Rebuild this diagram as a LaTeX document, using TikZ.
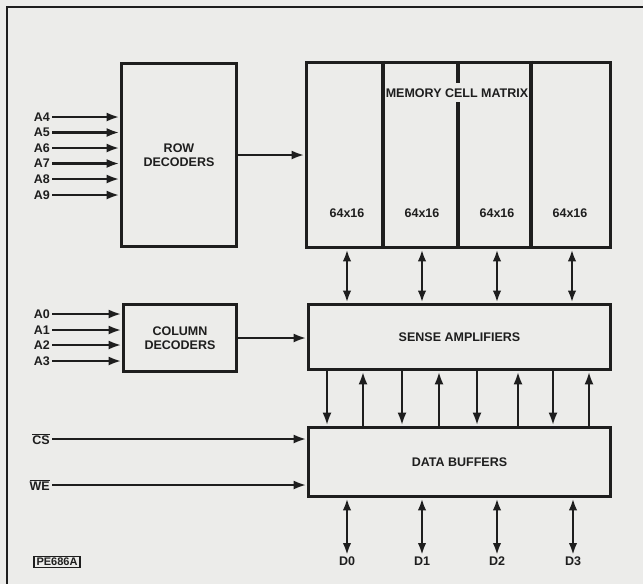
\documentclass[tikz,border=0pt]{standalone}
\usepackage{fontspec}
\setmainfont{Liberation Sans}
\usetikzlibrary{arrows.meta}
\definecolor{paper}{HTML}{ECECEA}
\definecolor{ink}{HTML}{1E1E1E}

\begin{document}
\begin{tikzpicture}[x=1pt,y=-1pt,
    blk/.style={draw=ink,line width=3.8pt,fill=paper,inner sep=0pt,text=ink,font=\bfseries\fontsize{12.5}{14}\selectfont,align=center},
    lab/.style={text=ink,inner sep=2pt,font=\bfseries\fontsize{12.5}{14}\selectfont},
    sig/.style={draw=ink,line width=2.9pt,-{Latex[length=13pt,width=9pt]}},
    bus/.style={draw=ink,line width=2.9pt,{Latex[length=12pt,width=8.5pt]}-{Latex[length=12pt,width=8.5pt]}}]
    \useasboundingbox (0,0) rectangle (643,584);
    \fill[paper] (0,0) rectangle (643,584);
    \draw[ink,line width=2pt] (7,584) -- (7,7) -- (643,7);
    % blocks
    \node[blk,minimum width=115pt,minimum height=183pt] (row) at (179,155) {ROW\\DECODERS};
    \node[blk,minimum width=304pt,minimum height=185pt] (mat) at (458.5,155) {};
    \node[blk,minimum width=113pt,minimum height=67pt] (col) at (180,338) {COLUMN\\DECODERS};
    \node[blk,minimum width=302pt,minimum height=65pt] (sa) at (459.5,337) {SENSE AMPLIFIERS};
    \node[blk,minimum width=302pt,minimum height=69pt] (db) at (459.5,462) {DATA BUFFERS};
    % matrix partitions
    \foreach \x in {383,531}{\coordinate (t) at (\x,0); \draw[ink,line width=3.8pt] (t |- mat.north) -- (t |- mat.south);}
    \draw[ink,line width=3.8pt] (458,62) -- (458,83) (458,102) -- (458,248);
    \node[lab] (title) at (457,93) {MEMORY CELL MATRIX};
    \foreach \x [count=\i] in {347,422,497,570}{\node[lab] (cell\i) at (\x,213) {64x16};}
    % address inputs
    \foreach \n/\y in {4/117,5/132.5,6/148,7/163.5,8/179,9/195}{
      \node[lab,anchor=east] (a\n) at (52,\y) {A\n};
      \draw[sig] (a\n.east) -- (row.west |- a\n);
    }
    \foreach \n/\y in {0/314,1/330,2/345,3/361}{
      \node[lab,anchor=east] (a\n) at (52,\y) {A\n};
      \draw[sig] (a\n.east) -- (col.west |- a\n);
    }
    \node[lab,anchor=east] (cs) at (52,439) {$\overline{\hbox{CS}}$};
    \node[lab,anchor=east] (we) at (52,485) {$\overline{\hbox{WE}}$};
    \draw[sig] (cs.east) -- (db.west |- cs);
    \draw[sig] (we.east) -- (db.west |- we);
    \draw[sig] (row.east) -- (mat.west |- row.east);
    \draw[sig] (col.east) -- (sa.west |- col.east);
    % matrix <-> sense amplifiers
    \foreach \x in {347,422,497,572}{\coordinate (t) at (\x,0); \draw[bus] (t |- mat.south) -- (t |- sa.north);}
    % sense amplifiers <-> data buffers
    \foreach \x in {327,402,477,553}{\coordinate (t) at (\x,0); \draw[sig] (t |- sa.south) -- (t |- db.north);}
    \foreach \x in {363,439,518,589}{\coordinate (t) at (\x,0); \draw[sig] (t |- db.north) -- (t |- sa.south);}
    % data lines
    \foreach \x/\n in {347/0,422/1,497/2,573/3}{
      \node[lab,anchor=north] (d\n) at (\x,555) {D\n};
      \draw[bus] (db.south -| d\n) -- (d\n.north);
    }
    \node[draw=ink,line width=1.2pt,inner xsep=2.5pt,inner ysep=1.5pt,text=ink,font=\bfseries\fontsize{11}{12}\selectfont] (ref) at (57,562) {PE686A};
\end{tikzpicture}
\end{document}
